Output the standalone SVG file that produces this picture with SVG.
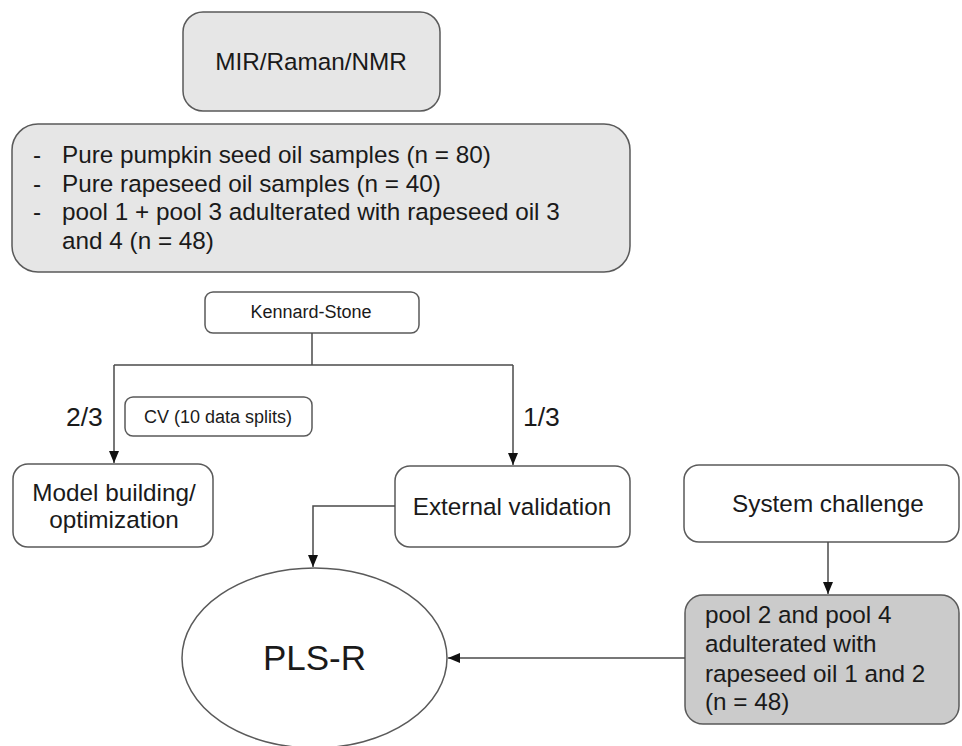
<svg xmlns="http://www.w3.org/2000/svg" width="962" height="746" viewBox="0 0 962 746">
<style>
text{font-family:"Liberation Sans",Arial,sans-serif;fill:#1a1a1a}
.box{fill:#fff;stroke:#5a5a5a;stroke-width:1.5}
.lg{fill:#e6e6e6;stroke:#5a5a5a;stroke-width:1.5}
.dg{fill:#cbcbcb;stroke:#5a5a5a;stroke-width:1.5}
.c{text-anchor:middle}
.ln{fill:none;stroke:#4a4a4a;stroke-width:1.5}
</style>
<defs>
<marker id="ah" viewBox="0 0 12 12" refX="12" refY="6" markerWidth="12" markerHeight="12" markerUnits="userSpaceOnUse" orient="auto">
<path d="M0,1 L12,6 L0,11 Z" fill="#111"/>
</marker>
</defs>
<rect width="962" height="746" fill="#fff"/>
<g id="mir">
<rect class="lg" x="183" y="12" width="257" height="99" rx="20"/>
<text class="c" x="311" y="70" font-size="24.3">MIR/Raman/NMR</text>
</g>
<g id="samples">
<rect class="lg" x="12" y="124" width="618" height="148" rx="26"/>
<g font-size="24.3">
<text x="33" y="163">-</text><text x="62" y="163">Pure pumpkin seed oil samples (n = 80)</text>
<text x="33" y="192">-</text><text x="62" y="192">Pure rapeseed oil samples (n = 40)</text>
<text x="33" y="220">-</text><text x="62" y="220">pool 1 + pool 3 adulterated with rapeseed oil 3</text>
<text x="62" y="249">and 4 (n = 48)</text>
</g>
</g>
<g id="kennard">
<rect class="box" x="205" y="292" width="214" height="41" rx="8"/>
<text class="c" x="311" y="318" font-size="18">Kennard-Stone</text>
</g>
<g id="cv">
<rect class="box" x="125" y="397" width="187" height="39" rx="8"/>
<text class="c" x="218" y="423" font-size="18">CV (10 data splits)</text>
</g>
<g id="model">
<rect class="box" x="13" y="464" width="200" height="83" rx="15"/>
<text class="c" x="114" y="501" font-size="24.3">Model building/</text>
<text class="c" x="114" y="528" font-size="24.3">optimization</text>
</g>
<g id="external">
<rect class="box" x="395" y="466" width="235" height="81" rx="15"/>
<text class="c" x="512" y="515" font-size="24.3">External validation</text>
</g>
<g id="system">
<rect class="box" x="684" y="465" width="275" height="77" rx="15"/>
<text class="c" x="828" y="512" font-size="24.3">System challenge</text>
</g>
<g id="pool">
<rect class="dg" x="685" y="595" width="274" height="129" rx="18"/>
<g font-size="24.3">
<text x="705" y="623">pool 2 and pool 4</text>
<text x="705" y="652">adulterated with</text>
<text x="705" y="682">rapeseed oil 1 and 2</text>
<text x="705" y="710">(n = 48)</text>
</g>
</g>
<g id="plsr">
<ellipse cx="314.5" cy="658" rx="132.5" ry="90" fill="#fff" stroke="#5a5a5a" stroke-width="1.5"/>
<text class="c" x="314.5" y="670" font-size="35">PLS-R</text>
</g>
<g id="labels" font-size="26.5">
<text x="66" y="426">2/3</text>
<text x="523" y="426">1/3</text>
</g>
<g id="connectors">
<path class="ln" d="M312,333 V365"/>
<path class="ln" d="M114,365 H513"/>
<path class="ln" d="M114,365 V463" marker-end="url(#ah)"/>
<path class="ln" d="M513,365 V465" marker-end="url(#ah)"/>
<path class="ln" d="M395,506 H313 V567" marker-end="url(#ah)"/>
<path class="ln" d="M828,542 V594" marker-end="url(#ah)"/>
<path class="ln" d="M685,658 H448" marker-end="url(#ah)"/>
</g>
</svg>
